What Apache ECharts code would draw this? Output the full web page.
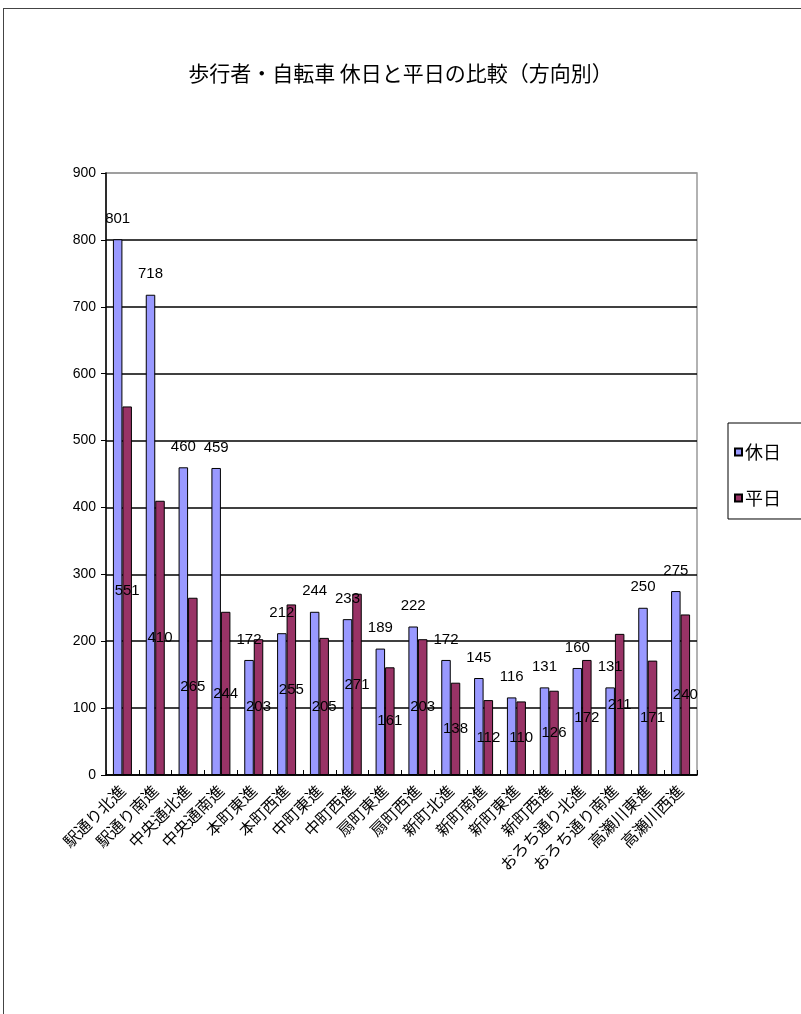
<!DOCTYPE html>
<html><head><meta charset="utf-8">
<script src="https://cdn.jsdelivr.net/npm/echarts@6/dist/echarts.min.js"></script>
<style>
html,body{margin:0;padding:0;background:#fff;}
#frame{position:absolute;left:3px;top:8px;width:810px;height:1020px;border:1.5px solid #444;box-sizing:border-box;}
#main{position:absolute;left:0;top:0;width:801px;height:1014px;}
</style></head>
<body>
<div id="frame"></div>
<div id="main"></div>
<script>
const categories = ['駅通り北進','駅通り南進','中央通北進','中央通南進','本町東進','本町西進','中町東進','中町西進','扇町東進','扇町西進','新町北進','新町南進','新町東進','新町西進','おろち通り北進','おろち通り南進','高瀬川東進','高瀬川西進'];
const holiday = [801,718,460,459,172,212,244,233,189,222,172,145,116,131,160,131,250,275];
const weekday = [551,410,265,244,203,255,205,271,161,203,138,112,110,126,172,211,171,240];
const yTicks = [0,100,200,300,400,500,600,700,800,900];

const chart = echarts.init(document.getElementById('main'), null, {renderer:'canvas'});
const numFont = 'Liberation Sans';
chart.setOption({
  animation:false,
  backgroundColor:'transparent',
  title:{
    text:'歩行者・自転車 休日と平日の比較（方向別）',
    left:'center', top:58,
    textStyle:{fontFamily:'Noto Sans CJK JP', fontSize:21, fontWeight:'normal', color:'#000'}
  },
  legend:{
    orient:'vertical', left:728, top:423,
    padding:[20,30,12,6], itemGap:28,
    itemWidth:7, itemHeight:7,
    borderColor:'#000', borderWidth:1,
    icon:'rect',
    textStyle:{fontFamily:'Noto Sans CJK JP', fontSize:18, color:'#000', padding:[0,0,0,-2]},
    data:['休日','平日']
  },
  grid:{left:106, right:104, top:173, bottom:239, show:true, borderColor:'#999', borderWidth:1.5},
  xAxis:{
    type:'category', data:categories,
    axisLine:{lineStyle:{color:'#000', width:1.5}},
    axisTick:{show:true, inside:true, length:5, lineStyle:{color:'#000'}},
    axisLabel:{rotate:45, interval:0, margin:13, fontFamily:'Noto Sans CJK JP', fontSize:16, color:'#000'}
  },
  yAxis:{
    type:'value', min:0, max:900, interval:100,
    axisLine:{show:true, lineStyle:{color:'#000', width:1.5}},
    axisTick:{show:true, length:5, lineStyle:{color:'#000'}},
    axisLabel:{fontFamily:numFont, fontSize:14, color:'#000', margin:10,
      formatter:(v)=> yTicks.includes(v) ? String(v) : ''},
    splitLine:{lineStyle:{color:['#000','#000','#000','#000','#000','#000','#000','#000','#000','#999'], width:1.5}}
  },
  series:[
    {name:'休日', type:'bar', data:holiday, barWidth:9.5, barGap:'0%',
     itemStyle:{color:'#9999FF', borderColor:'#000', borderWidth:1},
     label:{show:true, position:'top', distance:13, fontFamily:numFont, fontSize:15, color:'#000'}},
    {name:'平日', type:'bar', data:weekday, barWidth:9.5,
     itemStyle:{color:'#993366', borderColor:'#000', borderWidth:1},
     label:{show:true, position:'inside', fontFamily:numFont, fontSize:15, color:'#000'}}
  ]
});
</script>
</body></html>
